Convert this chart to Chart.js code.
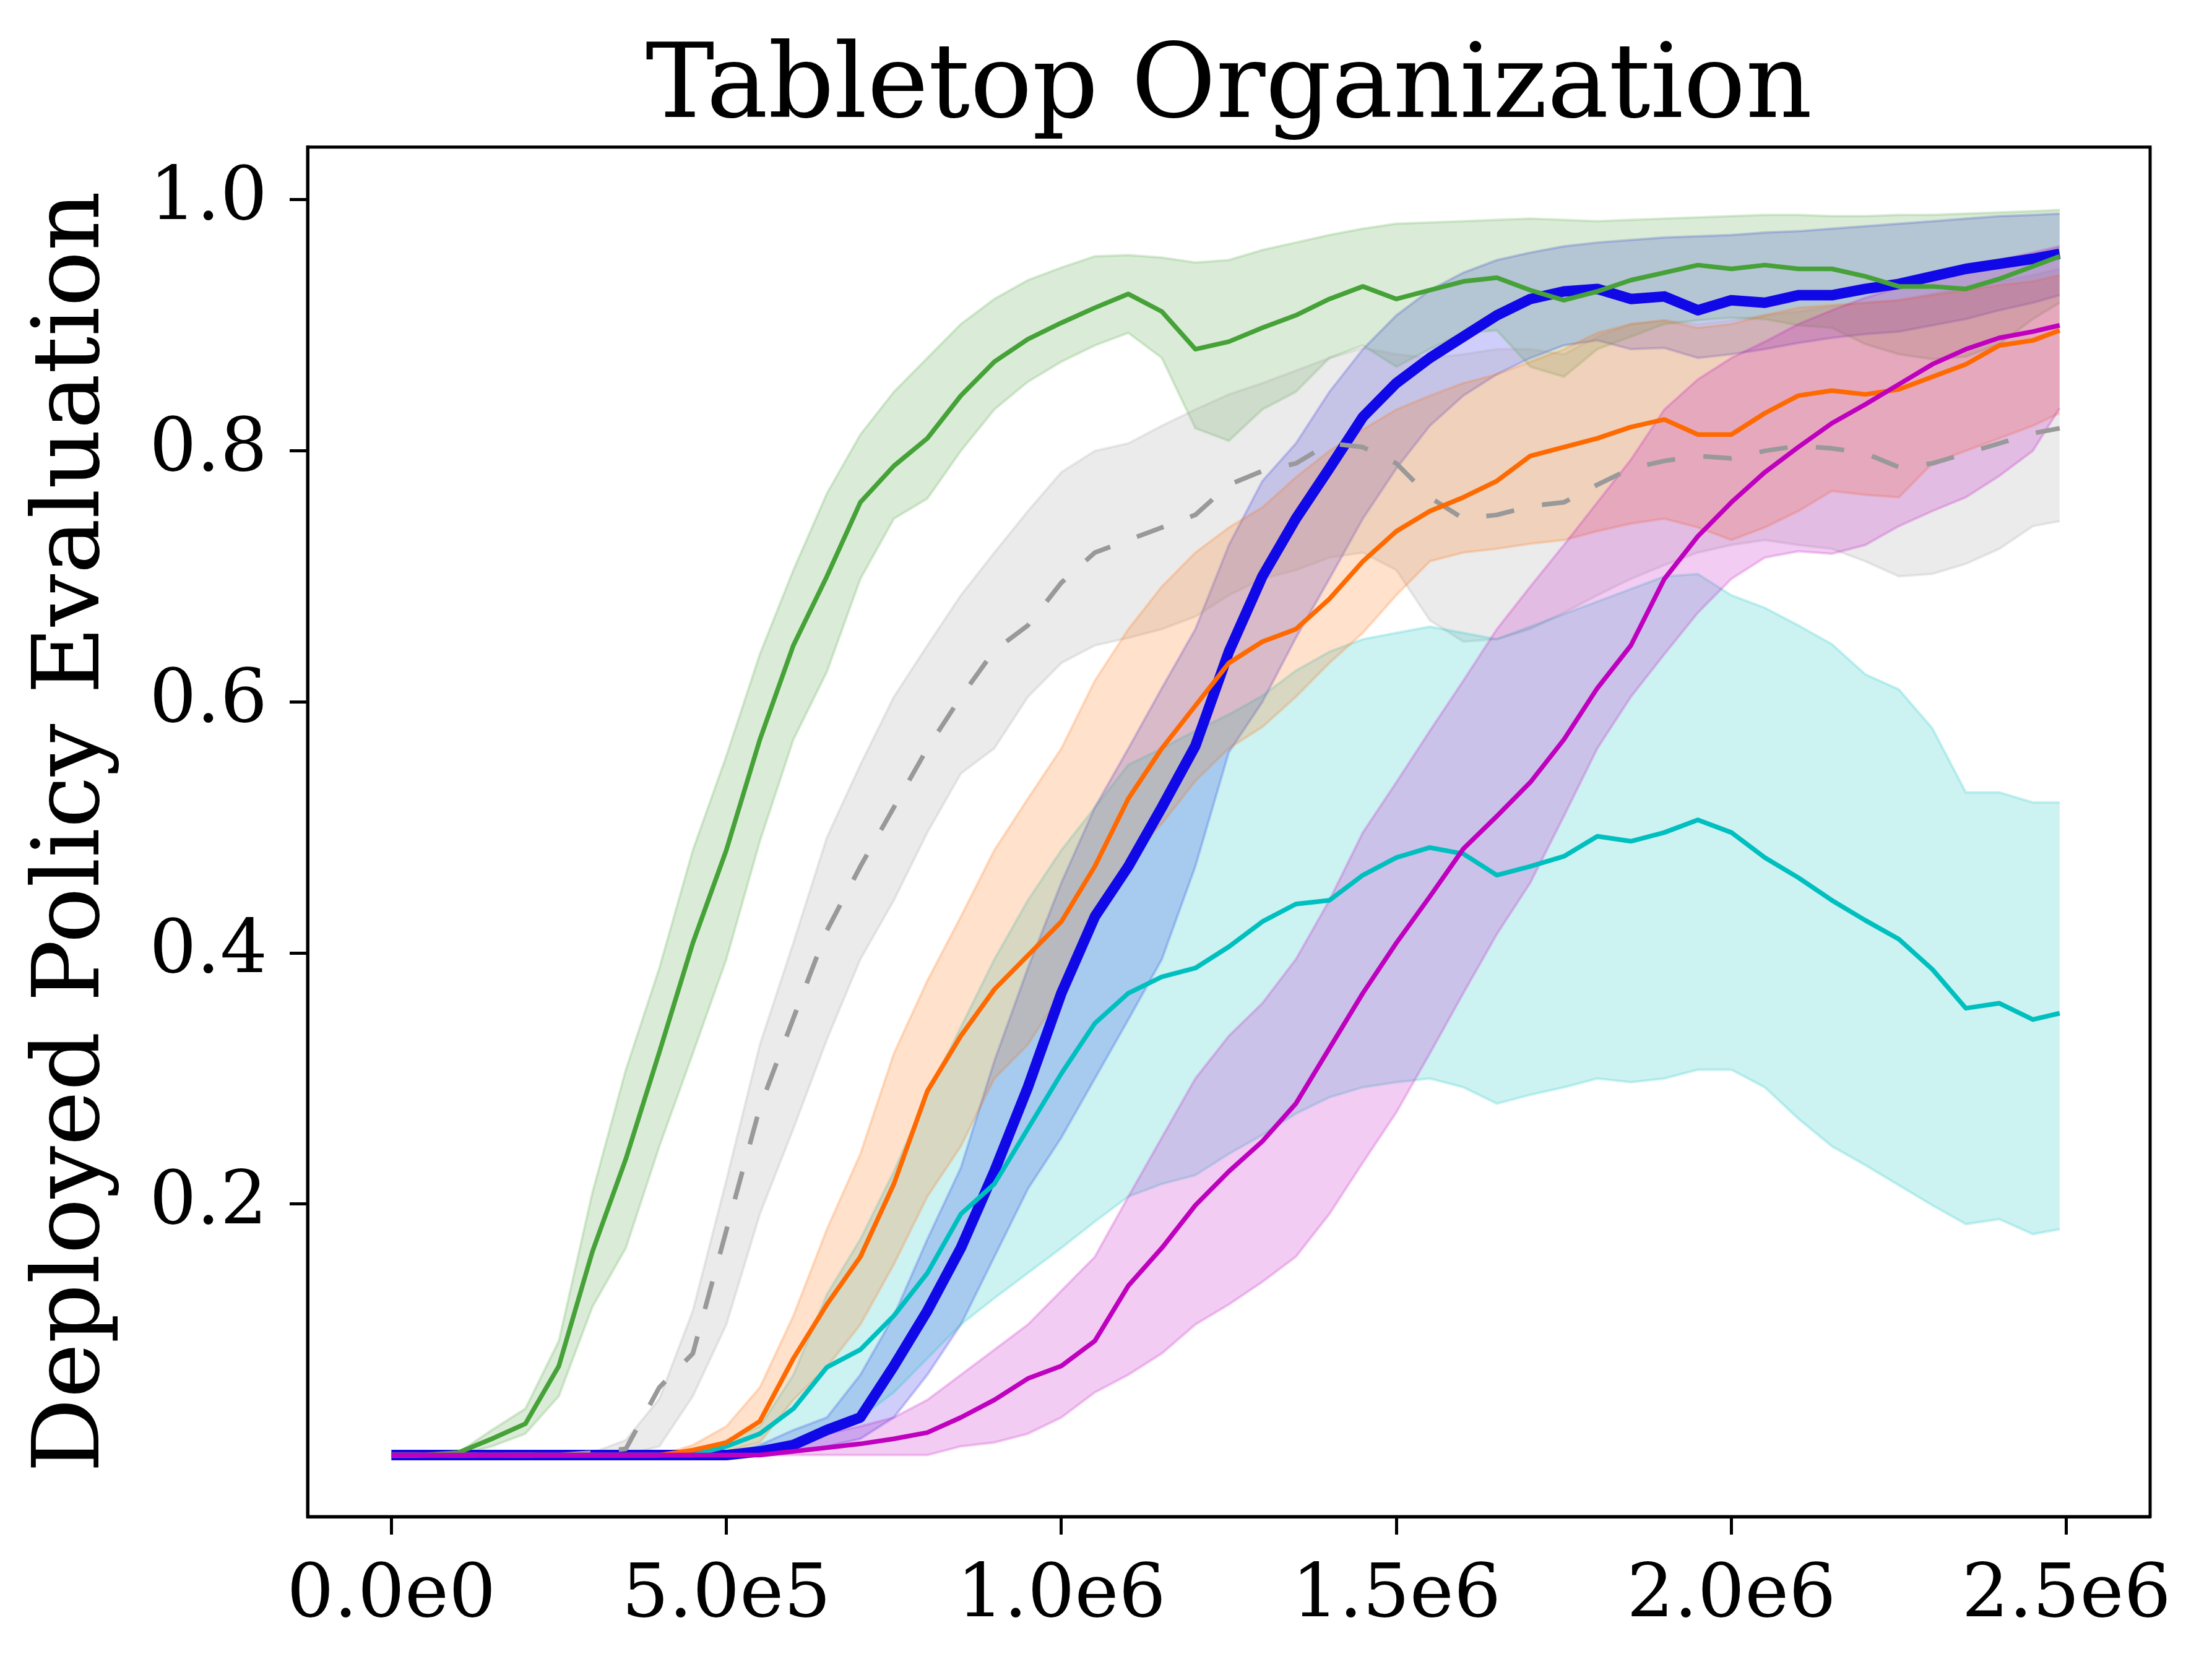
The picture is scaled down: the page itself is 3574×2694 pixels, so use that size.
<!DOCTYPE html>
<html>
<head>
<meta charset="utf-8">
<title>Tabletop Organization</title>
<script src="https://cdn.jsdelivr.net/npm/chart.js@4.4.0/dist/chart.umd.min.js"></script>
<style>
  html, body { margin: 0; padding: 0; background: #fff; }
  canvas { display: block; }
</style>
</head>
<body>
<canvas id="chart" width="3574" height="2694" style="width:3574px;height:2694px"></canvas>
<script>
// environment steps (x) shared by every curve
const steps = [
  0, 50000, 100000, 150000, 200000, 250000, 300000, 350000, 400000, 450000,
  500000, 550000, 600000, 650000, 700000, 750000, 800000, 850000, 900000, 950000,
  1000000, 1050000, 1100000, 1150000, 1200000, 1250000, 1300000, 1350000, 1400000, 1450000,
  1500000, 1550000, 1600000, 1650000, 1700000, 1750000, 1800000, 1850000, 1900000, 1950000,
  2000000, 2050000, 2100000, 2150000, 2200000, 2250000, 2300000, 2350000, 2400000, 2450000,
  2490000
];

const xTicks = [0, 500000, 1000000, 1500000, 2000000, 2500000];
const xTickLabels = ['0.0e0', '5.0e5', '1.0e6', '1.5e6', '2.0e6', '2.5e6'];
const yTicks = [0.2, 0.4, 0.6, 0.8, 1.0];

// green
const greenMean = [0,0,0.002,0.013,0.025,0.071,0.162,0.236,0.321,0.408,0.482,0.570,0.645,0.700,0.759,0.788,0.810,0.844,0.871,0.889,0.902,0.914,0.925,0.911,0.881,0.887,0.898,0.908,0.921,0.931,0.921,0.928,0.935,0.938,0.928,0.920,0.927,0.936,0.942,0.948,0.945,0.948,0.945,0.945,0.939,0.931,0.931,0.929,0.937,0.947,0.955];
const greenHi = [0,0,0.002,0.020,0.037,0.091,0.209,0.307,0.388,0.482,0.557,0.638,0.705,0.766,0.813,0.847,0.874,0.901,0.921,0.936,0.946,0.955,0.956,0.954,0.950,0.952,0.960,0.966,0.972,0.977,0.981,0.982,0.983,0.984,0.985,0.984,0.983,0.984,0.985,0.986,0.987,0.988,0.988,0.987,0.987,0.988,0.988,0.989,0.990,0.991,0.992];
const greenLo = [0,0,0,0.007,0.017,0.047,0.118,0.165,0.246,0.320,0.395,0.489,0.570,0.624,0.698,0.746,0.762,0.800,0.833,0.855,0.871,0.884,0.894,0.874,0.818,0.808,0.833,0.847,0.874,0.884,0.867,0.881,0.894,0.896,0.867,0.859,0.881,0.891,0.901,0.904,0.906,0.905,0.900,0.898,0.885,0.877,0.873,0.875,0.885,0.905,0.918];

// gray, dashed
const grayMean = [0,0,0,0,0,0,0.002,0.005,0.054,0.081,0.179,0.277,0.348,0.418,0.469,0.516,0.563,0.604,0.641,0.661,0.695,0.719,0.729,0.739,0.749,0.773,0.784,0.790,0.806,0.803,0.790,0.763,0.746,0.749,0.756,0.759,0.773,0.786,0.792,0.796,0.794,0.800,0.804,0.802,0.798,0.787,0.790,0.798,0.806,0.814,0.818];
const grayHi = [0,0,0,0,0,0,0.002,0.012,0.045,0.115,0.219,0.327,0.408,0.492,0.550,0.604,0.645,0.685,0.719,0.752,0.783,0.800,0.806,0.820,0.833,0.845,0.854,0.864,0.874,0.882,0.877,0.874,0.877,0.881,0.881,0.877,0.891,0.901,0.904,0.901,0.904,0.908,0.911,0.915,0.918,0.920,0.925,0.930,0.935,0.940,0.945];
const grayLo = [0,0,0,0,0,0,0,0,0.007,0.047,0.104,0.192,0.260,0.331,0.395,0.442,0.496,0.543,0.563,0.604,0.631,0.645,0.651,0.658,0.668,0.685,0.698,0.705,0.715,0.719,0.705,0.665,0.648,0.650,0.658,0.671,0.685,0.698,0.709,0.719,0.725,0.729,0.725,0.722,0.712,0.700,0.702,0.710,0.722,0.740,0.744];

// orange
const orangeMean = [0,0,0,0,0,0,0,0,0,0.004,0.010,0.027,0.077,0.120,0.158,0.216,0.290,0.334,0.371,0.398,0.425,0.469,0.523,0.563,0.597,0.631,0.648,0.658,0.682,0.712,0.736,0.752,0.763,0.776,0.796,0.803,0.810,0.819,0.825,0.813,0.813,0.830,0.844,0.848,0.845,0.849,0.859,0.869,0.884,0.888,0.896];
const orangeHi = [0,0,0,0,0,0,0,0,0,0.008,0.023,0.054,0.111,0.180,0.240,0.320,0.378,0.429,0.482,0.523,0.563,0.617,0.658,0.692,0.719,0.739,0.755,0.779,0.800,0.817,0.833,0.844,0.854,0.861,0.871,0.881,0.894,0.901,0.904,0.898,0.901,0.908,0.914,0.916,0.918,0.920,0.924,0.928,0.932,0.935,0.940];
const orangeLo = [0,0,0,0,0,0,0,0,0,0,0.003,0.010,0.044,0.070,0.104,0.152,0.206,0.246,0.300,0.327,0.368,0.429,0.476,0.503,0.537,0.563,0.580,0.604,0.631,0.655,0.685,0.712,0.719,0.722,0.726,0.729,0.736,0.742,0.746,0.739,0.729,0.739,0.752,0.768,0.765,0.763,0.790,0.800,0.810,0.820,0.830];

// cyan
const cyanMean = [0,0,0,0,0,0,0,0,0,0,0.007,0.017,0.037,0.070,0.084,0.111,0.145,0.192,0.216,0.260,0.304,0.344,0.368,0.381,0.388,0.405,0.425,0.439,0.442,0.462,0.476,0.484,0.479,0.462,0.469,0.477,0.493,0.489,0.496,0.506,0.496,0.476,0.460,0.442,0.426,0.411,0.387,0.356,0.360,0.347,0.352];
const cyanHi = [0,0,0,0,0,0,0,0,0,0,0.012,0.023,0.064,0.128,0.172,0.226,0.287,0.341,0.395,0.442,0.482,0.516,0.550,0.563,0.577,0.590,0.605,0.625,0.640,0.650,0.655,0.660,0.655,0.650,0.660,0.670,0.680,0.690,0.700,0.702,0.685,0.675,0.661,0.646,0.622,0.610,0.579,0.528,0.528,0.520,0.520];
const cyanLo = [0,0,0,0,0,0,0,0,0,0,0,0.005,0.010,0.017,0.030,0.050,0.077,0.104,0.125,0.145,0.165,0.186,0.206,0.216,0.223,0.240,0.255,0.272,0.285,0.293,0.297,0.300,0.293,0.280,0.287,0.293,0.300,0.297,0.300,0.307,0.307,0.293,0.268,0.246,0.231,0.215,0.199,0.184,0.188,0.176,0.180];

// blue, thick
const blueMean = [0,0,0,0,0,0,0,0,0,0,0,0.003,0.008,0.020,0.030,0.071,0.115,0.165,0.226,0.293,0.368,0.429,0.469,0.516,0.565,0.640,0.700,0.746,0.786,0.827,0.854,0.874,0.891,0.908,0.921,0.927,0.929,0.921,0.923,0.912,0.920,0.918,0.924,0.924,0.929,0.933,0.939,0.945,0.949,0.953,0.957];
const blueHi = [0,0,0,0,0,0,0,0,0,0,0,0.008,0.020,0.030,0.064,0.111,0.172,0.229,0.314,0.388,0.456,0.516,0.563,0.611,0.658,0.725,0.776,0.806,0.847,0.881,0.908,0.928,0.942,0.952,0.958,0.963,0.966,0.968,0.970,0.971,0.972,0.974,0.975,0.977,0.979,0.981,0.983,0.985,0.987,0.988,0.989];
const blueLo = [0,0,0,0,0,0,0,0,0,0,0,0,0.003,0.007,0.013,0.030,0.064,0.104,0.158,0.212,0.253,0.300,0.347,0.395,0.469,0.560,0.600,0.651,0.698,0.746,0.786,0.820,0.844,0.861,0.874,0.884,0.888,0.881,0.882,0.874,0.877,0.881,0.886,0.890,0.893,0.895,0.900,0.905,0.912,0.918,0.924];

// magenta
const magentaMean = [0,0,0,0,0,0,0,0,0,0,0,0,0.003,0.006,0.009,0.013,0.018,0.030,0.044,0.061,0.071,0.091,0.135,0.165,0.199,0.226,0.250,0.280,0.324,0.368,0.408,0.445,0.483,0.509,0.536,0.570,0.611,0.645,0.698,0.732,0.759,0.783,0.803,0.822,0.837,0.853,0.869,0.881,0.890,0.895,0.900];
const magentaHi = [0,0,0,0,0,0,0,0,0,0,0,0.005,0.012,0.017,0.023,0.030,0.044,0.064,0.084,0.104,0.131,0.158,0.206,0.253,0.300,0.334,0.360,0.395,0.442,0.496,0.536,0.577,0.617,0.658,0.692,0.725,0.759,0.793,0.833,0.857,0.874,0.887,0.901,0.912,0.922,0.930,0.938,0.945,0.952,0.958,0.963];
const magentaLo = [0,0,0,0,0,0,0,0,0,0,0,0,0,0,0,0,0,0.007,0.010,0.017,0.030,0.050,0.064,0.081,0.104,0.120,0.138,0.158,0.192,0.233,0.273,0.320,0.368,0.415,0.456,0.509,0.563,0.604,0.638,0.671,0.698,0.715,0.720,0.718,0.725,0.740,0.752,0.763,0.780,0.800,0.834];

// drawn bottom to top
const runs = [
  { mean: blueMean,    lo: blueLo,    hi: blueHi,    rgb: [17, 8, 232],   width: 17 },
  { mean: greenMean,   lo: greenLo,   hi: greenHi,   rgb: [70, 162, 56],  width: 7.5 },
  { mean: grayMean,    lo: grayLo,    hi: grayHi,    rgb: [153, 153, 153], width: 7.5, dash: [46, 46] },
  { mean: cyanMean,    lo: cyanLo,    hi: cyanHi,    rgb: [0, 191, 191],  width: 7.5 },
  { mean: orangeMean,  lo: orangeLo,  hi: orangeHi,  rgb: [255, 106, 0],  width: 7.5 },
  { mean: magentaMean, lo: magentaLo, hi: magentaHi, rgb: [191, 0, 191],  width: 7.5 }
];

const pts = (ys) => ys.map((y, i) => ({ x: steps[i], y: y }));
const rgba = (c, a) => `rgba(${c[0]},${c[1]},${c[2]},${a})`;

// all shaded bands go underneath, mean lines on top of them
// (higher order is drawn earlier in Chart.js)
const datasets = [];
runs.forEach((r, i) => {
  const band = rgba(r.rgb, 0.2);
  const bandOrder = 1000 - i * 2;
  datasets.push({ data: pts(r.lo), borderColor: band, borderWidth: 4, fill: false, order: bandOrder });
  datasets.push({ data: pts(r.hi), borderColor: band, borderWidth: 4, backgroundColor: band, fill: '-1', order: bandOrder - 1 });
});
runs.forEach((r, i) => {
  datasets.push({
    data: pts(r.mean),
    borderColor: rgba(r.rgb, 1),
    borderWidth: r.width,
    borderDash: r.dash || [],
    borderCapStyle: 'butt',
    borderJoinStyle: 'round',
    fill: false,
    order: 100 - i
  });
});
datasets.forEach((d) => {
  d.pointRadius = 0;
  d.tension = 0;
});

const frame = {
  id: 'frame',
  afterDraw(chart) {
    const { ctx, chartArea: a } = chart;
    ctx.save();
    ctx.strokeStyle = '#000';
    ctx.lineWidth = 5;
    ctx.strokeRect(a.left, a.top, a.right - a.left, a.bottom - a.top);
    ctx.restore();
  }
};

Chart.defaults.font.family = "'DejaVu Serif', serif";
Chart.defaults.color = '#000';

new Chart(document.getElementById('chart'), {
  type: 'line',
  data: { datasets },
  options: {
    responsive: false,
    devicePixelRatio: 1,
    animation: false,
    events: [],
    layout: { padding: { left: 0, right: 100, top: 0, bottom: 0 } },
    plugins: {
      legend: { display: false },
      tooltip: { enabled: false },
      filler: { propagate: false },
      title: {
        display: true,
        text: 'Tabletop Organization',
        fullSize: false,
        color: '#000',
        font: { size: 167, weight: 'normal', lineHeight: 1.1 },
        padding: { top: 54, bottom: 0 }
      }
    },
    scales: {
      x: {
        type: 'linear',
        min: -125000,
        max: 2625000,
        afterFit: (s) => { s.height = 243; },
        afterBuildTicks: (s) => { s.ticks = xTicks.map((v) => ({ value: v })); },
        ticks: {
          font: { size: 120 },
          padding: 29,
          maxRotation: 0,
          autoSkip: false,
          callback: (v) => xTickLabels[xTicks.indexOf(v)]
        },
        grid: { display: true, drawOnChartArea: false, drawTicks: true, tickLength: 29, tickWidth: 5, tickColor: '#000' },
        border: { display: true, color: '#000', width: 5 }
      },
      y: {
        type: 'linear',
        min: -0.049,
        max: 1.042,
        afterFit: (s) => { s.width = 497; },
        afterBuildTicks: (s) => { s.ticks = yTicks.map((v) => ({ value: v })); },
        ticks: {
          font: { size: 120 },
          padding: 36,
          autoSkip: false,
          callback: (v) => v.toFixed(1)
        },
        grid: { display: true, drawOnChartArea: false, drawTicks: true, tickLength: 29, tickWidth: 5, tickColor: '#000' },
        border: { display: true, color: '#000', width: 5 },
        title: {
          display: true,
          text: 'Deployed Policy Evaluation',
          color: '#000',
          font: { size: 150, weight: 'normal', lineHeight: 1.2 },
          padding: { top: 30, bottom: 0 }
        }
      }
    }
  },
  plugins: [frame]
});
</script>
</body>
</html>
